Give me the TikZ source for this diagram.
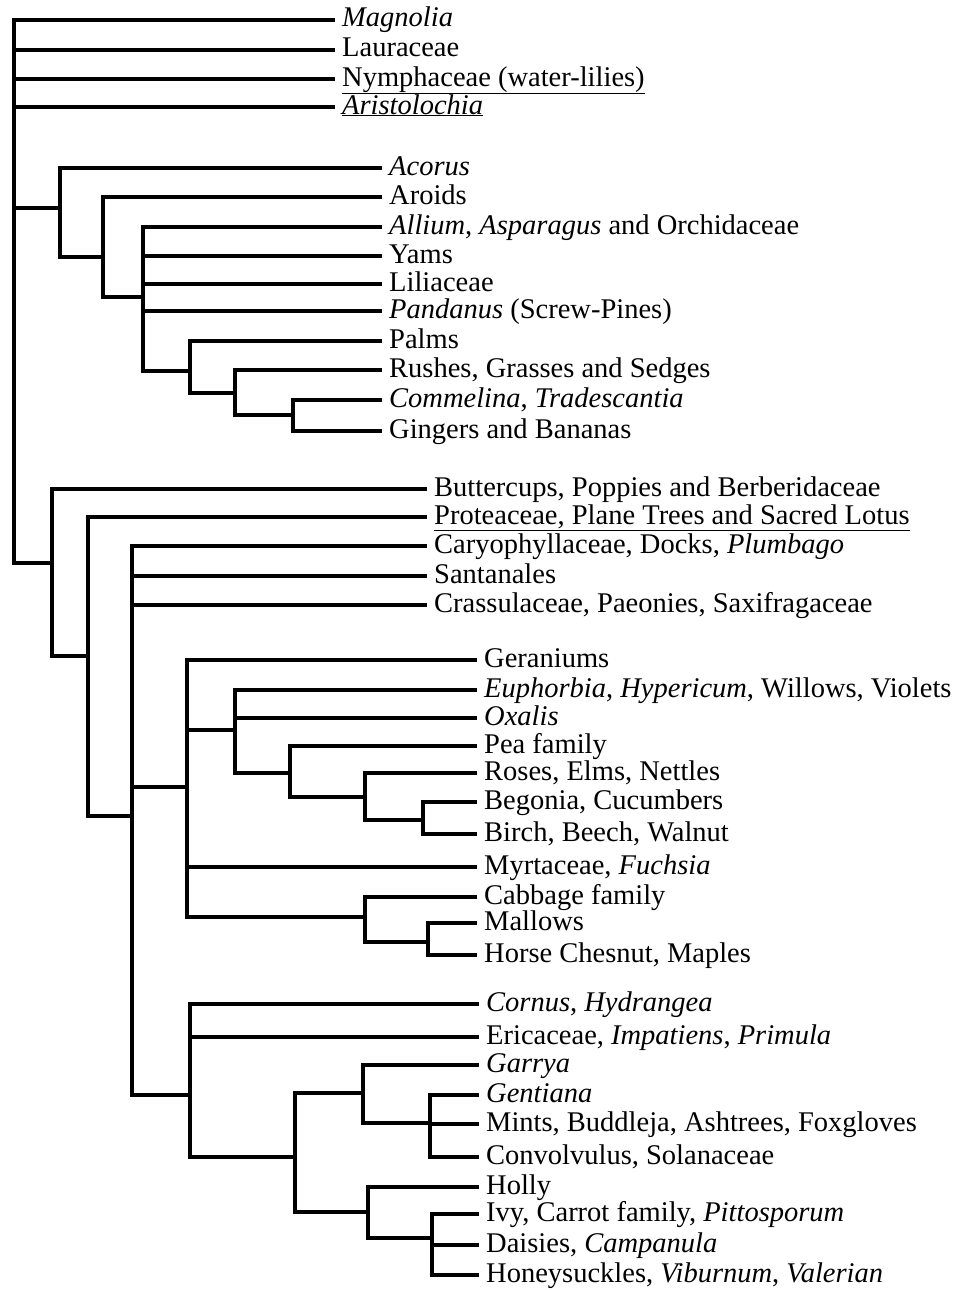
\documentclass[tikz,border=0pt]{standalone}
\usepackage{fontspec}
\setmainfont{Liberation Serif}

\begin{document}
\begin{tikzpicture}[x=1pt,y=-1pt]
  \tikzset{taxon/.style = {anchor=west,inner xsep=9pt,inner ysep=0pt,text height=19pt,text depth=5pt,font=\fontsize{28.5}{30}\selectfont}}
  \tikzset{branch/.style = {line width=3.4pt,line cap=rect}}

  \useasboundingbox (0,0) rectangle (964,1290);

  % splits
  \coordinate (root) at (14,563);
  \coordinate (monocots) at (60,208);
  \coordinate (mono1) at (103,257);
  \coordinate (mono2) at (143,297);
  \coordinate (mono3) at (190,371);
  \coordinate (mono4) at (235,393);
  \coordinate (mono5) at (293,415);
  \coordinate (eudicots) at (52,563);
  \coordinate (eud1) at (88,656);
  \coordinate (core) at (132,816);
  \coordinate (rosids) at (187,787);
  \coordinate (ros1) at (235,730);
  \coordinate (ros2) at (290,773);
  \coordinate (ros3) at (365,797);
  \coordinate (ros4) at (423,820);
  \coordinate (malv1) at (365,917);
  \coordinate (malv2) at (428,942);
  \coordinate (asterids) at (190,1095);
  \coordinate (ast1) at (295,1157);
  \coordinate (lam1) at (363,1093);
  \coordinate (lam2) at (430,1123);
  \coordinate (camp1) at (368,1212);
  \coordinate (camp2) at (432,1238);

  % leaves
	\node[taxon] (magnolia) at (333,20) {\textit{Magnolia}};
	\node[taxon] (lauraceae) at (333,50) {Lauraceae};
	\node[taxon] (nymph) at (333,79) {\underline{Nymphaceae (water-lilies)}};
	\node[taxon] (aristo) at (333,107) {\underline{\textit{Aristolochia}}};

	\node[taxon] (acorus) at (380,168) {\textit{Acorus}};
	\node[taxon] (aroids) at (380,197) {Aroids};
	\node[taxon] (allium) at (380,227) {\textit{Allium}, \textit{Asparagus} and Orchidaceae};
	\node[taxon] (yams) at (380,256) {Yams};
	\node[taxon] (liliaceae) at (380,284) {Liliaceae};
	\node[taxon] (pandanus) at (380,311) {\textit{Pandanus} (Screw-Pines)};
	\node[taxon] (palms) at (380,341) {Palms};
	\node[taxon] (rushes) at (380,370) {Rushes, Grasses and Sedges};
	\node[taxon] (commelina) at (380,400) {\textit{Commelina}, \textit{Tradescantia}};
	\node[taxon] (gingers) at (380,431) {Gingers and Bananas};

	\node[taxon] (buttercups) at (425,489) {Buttercups, Poppies and Berberidaceae};
	\node[taxon] (proteaceae) at (425,517) {\underline{Proteaceae, Plane Trees and Sacred Lotus}};
	\node[taxon] (caryo) at (425,546) {Caryophyllaceae, Docks, \textit{Plumbago}};
	\node[taxon] (santanales) at (425,576) {Santanales};
	\node[taxon] (crassu) at (425,605) {Crassulaceae, Paeonies, Saxifragaceae};

	\node[taxon] (geraniums) at (475,660) {Geraniums};
	\node[taxon] (euphorbia) at (475,690) {\textit{Euphorbia}, \textit{Hypericum}, Willows, Violets};
	\node[taxon] (oxalis) at (475,718) {\textit{Oxalis}};
	\node[taxon] (pea) at (475,746) {Pea family};
	\node[taxon] (roses) at (475,773) {Roses, Elms, Nettles};
	\node[taxon] (begonia) at (475,802) {Begonia, Cucumbers};
	\node[taxon] (birch) at (475,834) {Birch, Beech, Walnut};
	\node[taxon] (myrtaceae) at (475,867) {Myrtaceae, \textit{Fuchsia}};
	\node[taxon] (cabbage) at (475,897) {Cabbage family};
	\node[taxon] (mallows) at (475,923) {Mallows};
	\node[taxon] (horse) at (475,955) {Horse Chesnut, Maples};

	\node[taxon] (cornus) at (477,1004) {\textit{Cornus}, \textit{Hydrangea}};
	\node[taxon] (ericaceae) at (477,1037) {Ericaceae, \textit{Impatiens}, \textit{Primula}};
	\node[taxon] (garrya) at (477,1065) {\textit{Garrya}};
	\node[taxon] (gentiana) at (477,1095) {\textit{Gentiana}};
	\node[taxon] (mints) at (477,1124) {Mints, Buddleja, Ashtrees, Foxgloves};
	\node[taxon] (convolvulus) at (477,1157) {Convolvulus, Solanaceae};
	\node[taxon] (holly) at (477,1187) {Holly};
	\node[taxon] (ivy) at (477,1214) {Ivy, Carrot family, \textit{Pittosporum}};
	\node[taxon] (daisies) at (477,1245) {Daisies, \textit{Campanula}};
	\node[taxon] (honeysuckles) at (477,1275) {Honeysuckles, \textit{Viburnum}, \textit{Valerian}};

       \foreach \from/\to in {root/monocots, root/eudicots, monocots/mono1, mono1/mono2, mono2/mono3,
         mono3/mono4, mono4/mono5, eudicots/eud1, eud1/core, core/rosids, core/asterids,
         rosids/ros1, ros1/ros2, ros2/ros3, ros3/ros4, rosids/malv1, malv1/malv2,
         asterids/ast1, ast1/lam1, lam1/lam2, ast1/camp1, camp1/camp2}
    \draw[branch] (\from) |- (\to);

       \foreach \from/\to in {root/magnolia, root/lauraceae, root/nymph, root/aristo,
         monocots/acorus, mono1/aroids, mono2/allium, mono2/yams, mono2/liliaceae, mono2/pandanus,
         mono3/palms, mono4/rushes, mono5/commelina, mono5/gingers,
         eudicots/buttercups, eud1/proteaceae, core/caryo, core/santanales, core/crassu,
         rosids/geraniums, ros1/euphorbia, ros1/oxalis, ros2/pea, ros3/roses, ros4/begonia, ros4/birch,
         rosids/myrtaceae, malv1/cabbage, malv2/mallows, malv2/horse,
         asterids/cornus, asterids/ericaceae, lam1/garrya, lam2/gentiana, lam2/mints, lam2/convolvulus,
         camp1/holly, camp2/ivy, camp2/daisies, camp2/honeysuckles}
    \draw[branch] (\from) |- (\to.west);
\end{tikzpicture}
\end{document}
